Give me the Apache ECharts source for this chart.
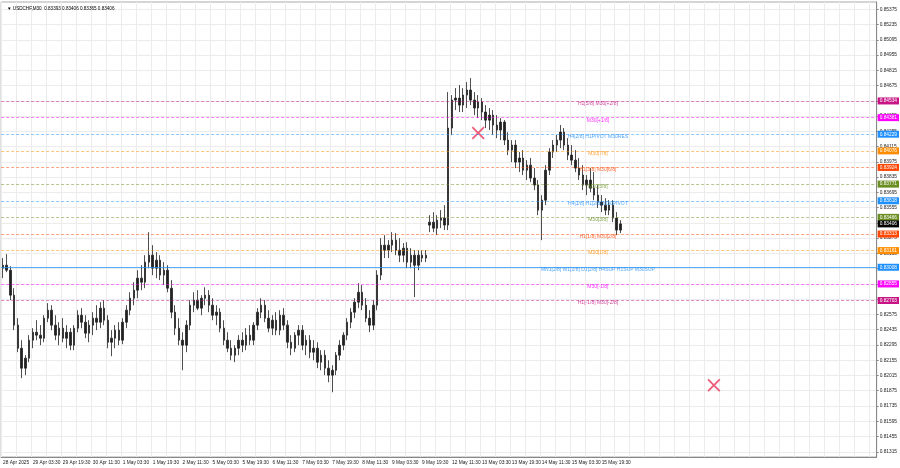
<!DOCTYPE html>
<html><head><meta charset="utf-8">
<script src="https://cdn.jsdelivr.net/npm/echarts@6/dist/echarts.min.js"></script>
<style>html,body{margin:0;padding:0;background:#fff}#c{width:900px;height:468px}</style>
</head><body><div id="c"></div>
<script>
// ---- data ----
const tickLabels = ['28 Apr 2025','29 Apr 03:30','29 Apr 19:30','30 Apr 11:30','1 May 03:30','1 May 19:30','2 May 11:30','5 May 03:30','5 May 19:30','6 May 11:30','7 May 03:30','7 May 19:30','8 May 11:30','9 May 03:30','9 May 19:30','12 May 11:30','13 May 03:30','13 May 19:30','14 May 11:30','15 May 03:30','15 May 19:30'];
const priceTicks = [0.81315,0.81455,0.81595,0.81735,0.81875,0.82015,0.82155,0.82295,0.82435,0.82575,0.82715,0.82855,0.82995,0.83135,0.83275,0.83415,0.83555,0.83695,0.83835,0.83975,0.84115,0.84255,0.84395,0.84535,0.84675,0.84815,0.84955,0.85095,0.85235,0.85375];
const opens = [
0.83000,0.83027,0.82981,0.82752,0.82477,0.82265,0.82082,0.82174,0.82339,0.82412,
0.82385,0.82357,0.82541,0.82614,0.82477,0.82385,0.82449,0.82357,0.82412,0.82293,
0.82449,0.82568,0.82504,0.82403,0.82477,0.82541,0.82504,0.82633,0.82522,0.82320,
0.82357,0.82431,0.82339,0.82504,0.82614,0.82724,0.82798,0.82908,0.82871,0.83055,
0.83119,0.83000,0.83073,0.82936,0.82981,0.82816,0.82596,0.82449,0.82339,0.82293,
0.82477,0.82660,0.82706,0.82633,0.82724,0.82752,0.82660,0.82568,0.82596,0.82449,
0.82339,0.82265,0.82201,0.82265,0.82339,0.82293,0.82385,0.82339,0.82477,0.82596,
0.82660,0.82541,0.82449,0.82522,0.82431,0.82568,0.82477,0.82320,0.82265,0.82385,
0.82431,0.82293,0.82339,0.82229,0.82265,0.82137,0.82201,0.82082,0.82018,0.82063,
0.82201,0.82293,0.82385,0.82504,0.82596,0.82688,0.82779,0.82660,0.82541,0.82477,
0.82660,0.82936,0.83211,0.83165,0.83211,0.83257,0.83165,0.83119,0.83183,0.83055,
0.83119,0.83027,0.83119,0.83092,0.83395,0.83422,0.83367,0.83440,0.83459,0.83395,
0.84285,0.84542,0.84560,0.84496,0.84588,0.84634,0.84542,0.84469,0.84524,0.84432,
0.84358,0.84404,0.84313,0.84267,0.84340,0.84175,0.84083,0.84129,0.83973,0.84010,
0.83899,0.83945,0.83826,0.83762,0.83532,0.83624,0.83899,0.84065,0.84129,0.84175,
0.84248,0.84129,0.84037,0.83991,0.83918,0.83854,0.83762,0.83808,0.83734,0.83670,
0.83606,0.83578,0.83532,0.83578,0.83459,0.83349];
const closes = [
0.83027,0.82981,0.82752,0.82477,0.82265,0.82082,0.82174,0.82339,0.82412,0.82385,
0.82357,0.82541,0.82614,0.82477,0.82385,0.82449,0.82357,0.82412,0.82293,0.82449,
0.82568,0.82504,0.82403,0.82477,0.82541,0.82504,0.82633,0.82522,0.82320,0.82357,
0.82431,0.82339,0.82504,0.82614,0.82724,0.82798,0.82908,0.82871,0.83055,0.83119,
0.83000,0.83073,0.82936,0.82981,0.82816,0.82596,0.82449,0.82339,0.82293,0.82477,
0.82660,0.82706,0.82633,0.82724,0.82752,0.82660,0.82568,0.82596,0.82449,0.82339,
0.82265,0.82201,0.82265,0.82339,0.82293,0.82385,0.82339,0.82477,0.82596,0.82660,
0.82541,0.82449,0.82522,0.82431,0.82568,0.82477,0.82320,0.82265,0.82385,0.82431,
0.82293,0.82339,0.82229,0.82265,0.82137,0.82201,0.82082,0.82018,0.82063,0.82201,
0.82293,0.82385,0.82504,0.82596,0.82688,0.82779,0.82660,0.82541,0.82477,0.82660,
0.82936,0.83211,0.83165,0.83211,0.83257,0.83165,0.83119,0.83183,0.83055,0.83119,
0.83027,0.83119,0.83092,0.83119,0.83422,0.83367,0.83440,0.83459,0.83395,0.84285,
0.84542,0.84560,0.84496,0.84588,0.84634,0.84542,0.84469,0.84524,0.84432,0.84358,
0.84404,0.84313,0.84267,0.84340,0.84175,0.84083,0.84129,0.83973,0.84010,0.83899,
0.83945,0.83826,0.83762,0.83532,0.83624,0.83899,0.84065,0.84129,0.84175,0.84248,
0.84129,0.84037,0.83991,0.83918,0.83854,0.83762,0.83808,0.83734,0.83670,0.83606,
0.83578,0.83532,0.83578,0.83459,0.83349,0.83406];
const lows = [
0.82908,0.82963,0.82706,0.82431,0.82229,0.81990,0.82018,0.82137,0.82265,0.82339,
0.82293,0.82320,0.82504,0.82431,0.82339,0.82293,0.82320,0.82265,0.82247,0.82247,
0.82412,0.82449,0.82357,0.82320,0.82385,0.82431,0.82449,0.82477,0.82265,0.82192,
0.82265,0.82293,0.82302,0.82449,0.82568,0.82660,0.82724,0.82798,0.82816,0.83000,
0.82936,0.82908,0.82890,0.82844,0.82779,0.82541,0.82385,0.82293,0.82063,0.82229,
0.82431,0.82596,0.82614,0.82568,0.82660,0.82596,0.82522,0.82477,0.82412,0.82293,
0.82229,0.82155,0.82137,0.82201,0.82229,0.82247,0.82293,0.82293,0.82431,0.82541,
0.82504,0.82412,0.82385,0.82385,0.82385,0.82431,0.82265,0.82201,0.82229,0.82293,
0.82247,0.82201,0.82174,0.82155,0.82082,0.82063,0.82018,0.81953,0.81861,0.82018,
0.82155,0.82247,0.82339,0.82449,0.82541,0.82633,0.82614,0.82504,0.82412,0.82431,
0.82614,0.82890,0.83092,0.83092,0.83147,0.83119,0.83055,0.83055,0.83000,0.83000,
0.82734,0.82981,0.83055,0.83055,0.83330,0.83330,0.83303,0.83367,0.83349,0.83349,
0.84221,0.84450,0.84432,0.84432,0.84469,0.84496,0.84404,0.84377,0.84358,0.84285,
0.84267,0.84221,0.84193,0.84175,0.84129,0.84037,0.83973,0.83918,0.83881,0.83854,
0.83808,0.83789,0.83716,0.83486,0.83257,0.83578,0.83854,0.84010,0.84065,0.84101,
0.84083,0.83991,0.83945,0.83881,0.83808,0.83716,0.83670,0.83697,0.83624,0.83551,
0.83514,0.83486,0.83486,0.83422,0.83303,0.83321];
const highs = [
0.83092,0.83128,0.83018,0.82816,0.82541,0.82339,0.82201,0.82385,0.82449,0.82522,
0.82477,0.82568,0.82679,0.82660,0.82568,0.82504,0.82541,0.82477,0.82449,0.82477,
0.82614,0.82633,0.82568,0.82522,0.82596,0.82660,0.82688,0.82706,0.82568,0.82431,
0.82477,0.82504,0.82541,0.82660,0.82779,0.82871,0.82981,0.83027,0.83119,0.83330,
0.83211,0.83147,0.83119,0.83055,0.83027,0.82890,0.82660,0.82541,0.82412,0.82522,
0.82706,0.82779,0.82798,0.82752,0.82825,0.82798,0.82724,0.82660,0.82633,0.82522,
0.82412,0.82339,0.82293,0.82385,0.82412,0.82449,0.82477,0.82504,0.82633,0.82724,
0.82706,0.82614,0.82568,0.82596,0.82614,0.82633,0.82522,0.82385,0.82412,0.82477,
0.82477,0.82385,0.82385,0.82339,0.82320,0.82247,0.82247,0.82155,0.82109,0.82229,
0.82339,0.82412,0.82541,0.82633,0.82724,0.82862,0.82844,0.82724,0.82614,0.82706,
0.82981,0.83275,0.83303,0.83257,0.83330,0.83321,0.83275,0.83229,0.83238,0.83183,
0.83165,0.83165,0.83165,0.83165,0.83486,0.83514,0.83486,0.83532,0.83578,0.84615,
0.84588,0.84652,0.84680,0.84652,0.84707,0.84744,0.84615,0.84588,0.84560,0.84496,
0.84469,0.84450,0.84404,0.84377,0.84358,0.84248,0.84175,0.84175,0.84065,0.84083,
0.83991,0.84010,0.83918,0.83808,0.83670,0.83945,0.84101,0.84175,0.84221,0.84313,
0.84285,0.84193,0.84129,0.84083,0.84010,0.83945,0.83854,0.83918,0.83881,0.83762,
0.83670,0.83642,0.83624,0.83624,0.83514,0.83440];
const levelPrices = [0.84534,0.84381,0.84229,0.84076,0.83924,0.83771,0.83618,0.83466,0.83313,0.83161,0.83008,0.82855,0.82703];
const levelNames = ['H1[5/8] M30[+2/8]','M30[+1/8]','H4[2/8] H1PIVOT M30RES','M30[7/8]','H1[3/8] M30[6/8]','M30[5/8]','H4[1/8] H1[2/8] M30PIVOT','M30[3/8]','H1[1/8] M30[2/8]','M30[1/8]','MN1[2/8] W1[2/8] D1[2/8] H4SUP H1SUP M30SUP','M30[-1/8]','H1[-1/8] M30[-2/8]'];
const lastPrice = 0.83406;
const crossMarks = [[127, 0.84240], [190, 0.81926]];
const levelLabelSlot = 159;

// ---- styles ----
const levelColors = ['#c71585','#ff00ff','#1e90ff','#ff8c00','#ff4500','#6b8e23','#1e90ff','#6b8e23','#ff4500','#ff8c00','#1e90ff','#ff00ff','#c71585'];
const levelSolid = [false,false,false,false,false,false,false,false,false,false,true,false,false];
const FONT = 'Liberation Sans', NARROW = '"Liberation Sans Narrow","Liberation Sans",sans-serif';
const N = 234;
const rgba = (hex, a) => {
  const n = parseInt(hex.slice(1), 16);
  return 'rgba(' + (n >> 16) + ',' + ((n >> 8) & 255) + ',' + (n & 255) + ',' + a + ')';
};

const chart = echarts.init(document.getElementById('c'));
const cats = Array.from({length: N}, (_, i) => String(i));
const ohlc = opens.map((o, i) => [o, closes[i], lows[i], highs[i]]);

const tagLabel = (p, bg) => ({show: true, position: 'end', distance: 1, formatter: p.toFixed(5),
  backgroundColor: bg, color: '#fff', fontSize: 4.8, fontFamily: FONT, padding: [1, 2, 1, 2]});
const lineData = levelPrices.map((p, i) => ({
  yAxis: p,
  lineStyle: {color: rgba(levelColors[i], levelSolid[i] ? 0.75 : 0.5), type: levelSolid[i] ? 'solid' : [3, 2], width: 1},
  label: tagLabel(p, levelColors[i])
}));
lineData.push({yAxis: lastPrice, lineStyle: {color: 'rgba(0,0,0,0)', width: 1}, label: tagLabel(lastPrice, '#000')});

const option = {
  animation: false,
  backgroundColor: '#fff',
  title: {text: '▼ USDCHF,M30  0.83393 0.83406 0.83365 0.83406', left: 2, top: 1,
    textStyle: {fontSize: 4.6, fontWeight: 'normal', color: '#000', fontFamily: FONT}},
  grid: {left: 0, right: 23, top: 2, bottom: 11, show: true, borderColor: '#aaa', borderWidth: 1},
  xAxis: {type: 'category', data: cats, boundaryGap: true,
    axisLine: {show: true, lineStyle: {color: '#888'}},
    axisTick: {show: false},
    axisLabel: {interval: 0, align: 'left', fontSize: 4.8, color: '#222', margin: 3, fontFamily: NARROW,
      formatter: (v, i) => (i % 8 === 0 && i / 8 < tickLabels.length) ? tickLabels[i / 8] : ''},
    splitLine: {show: true, interval: (i) => i % 4 === 0, lineStyle: {color: '#ececec', width: 1}}},
  yAxis: {type: 'value', position: 'right', min: 0.81267, max: 0.85442,
    axisLine: {show: true, lineStyle: {color: '#888'}},
    axisTick: {show: true, length: 2, customValues: priceTicks, lineStyle: {color: '#888'}},
    axisLabel: {customValues: priceTicks, formatter: v => v.toFixed(5), fontSize: 4.8, color: '#222', margin: 3, fontFamily: FONT},
    splitLine: {show: true, lineStyle: {color: '#ececec'}}},
  series: [
    {type: 'candlestick', data: ohlc, barWidth: 2,
      itemStyle: {color: '#222', color0: '#222', borderColor: '#222', borderColor0: '#222', borderWidth: 0.8}},
    {type: 'scatter', symbolSize: 0, silent: true, z: 3,
      data: levelNames.map((n, i) => ({name: n, value: [levelLabelSlot, levelPrices[i]],
        label: {color: levelColors[i]}})),
      label: {show: true, position: 'bottom', distance: 0, formatter: '{b}', fontSize: 5, fontFamily: FONT},
      markLine: {silent: true, precision: 5, symbol: ['none', 'none'], data: lineData}},
    {type: 'scatter', silent: true, data: crossMarks, symbolSize: 13, z: 4,
      symbol: 'path://M0,1L1,0L5,4L9,0L10,1L6,5L10,9L9,10L5,6L1,10L0,9L4,5Z',
      itemStyle: {color: '#e8365a'}}
  ]
};
chart.setOption(option);
</script>
</body></html>
